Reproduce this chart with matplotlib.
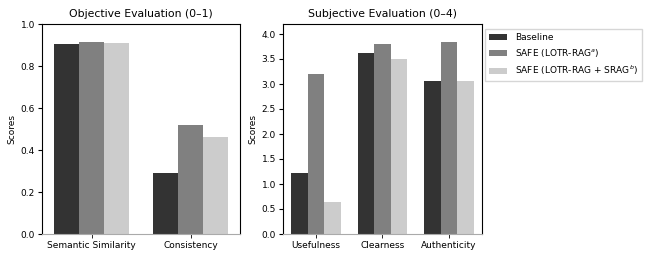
import matplotlib
matplotlib.use("Agg")
import matplotlib.pyplot as plt
import numpy as np

# objective evaluation (0-1)
obj_cats = ["Semantic Similarity", "Consistency"]
obj_baseline = [0.905, 0.29]
obj_safe_a = [0.915, 0.52]
obj_safe_ab = [0.908, 0.46]

# subjective evaluation (0-4)
subj_cats = ["Usefulness", "Clearness", "Authenticity"]
subj_baseline = [1.23, 3.62, 3.07]
subj_safe_a = [3.20, 3.80, 3.84]
subj_safe_ab = [0.65, 3.51, 3.06]

labels = ["Baseline", "SAFE (LOTR-RAG$^{a}$)", "SAFE (LOTR-RAG + SRAG$^{b}$)"]
colors = ["#333333", "#808080", "#cccccc"]

plt.rcParams["font.family"] = "DejaVu Sans"
fig = plt.figure(figsize=(6.52, 2.62), dpi=100)
ax1 = fig.add_axes([42 / 652, 28 / 262, 198 / 652, 210 / 262])
ax2 = fig.add_axes([283 / 652, 28 / 262, 199 / 652, 210 / 262])

w = 0.25


def draw(ax, cats, series, ylim, yticks, title):
    x = np.arange(len(cats))
    for i, vals in enumerate(series):
        ax.bar(x + (i - 1) * w, vals, w, color=colors[i], label=labels[i])
    ax.set_xticks(x)
    ax.set_xticklabels(cats, fontsize=6.5)
    ax.set_xlim(-0.5, len(cats) - 0.5)
    ax.set_ylim(*ylim)
    ax.set_yticks(yticks)
    ax.tick_params(axis="y", labelsize=6.5, length=3, pad=2)
    ax.tick_params(axis="x", length=3, width=0.6, pad=2)
    ax.set_ylabel("Scores", fontsize=6.5, labelpad=3)
    ax.set_title(title, fontsize=7.8, pad=5)
    for s in ax.spines.values():
        s.set_linewidth(0.8)
    ax.spines["bottom"].set_color("#aaaaaa")


draw(ax1, obj_cats, [obj_baseline, obj_safe_a, obj_safe_ab], (0, 1.0),
     np.arange(0, 1.01, 0.2), "Objective Evaluation (0\u20131)")
draw(ax2, subj_cats, [subj_baseline, subj_safe_a, subj_safe_ab], (0, 4.2),
     np.arange(0, 4.01, 0.5), "Subjective Evaluation (0\u20134)")

ax2.legend(loc="upper left", bbox_to_anchor=(485 / 652, 233 / 262),
           bbox_transform=fig.transFigure, fontsize=6.5,
           frameon=True, fancybox=False, edgecolor="#cccccc",
           handlelength=2.0, handleheight=0.6, handletextpad=0.9,
           borderpad=0.45, borderaxespad=0, labelspacing=0.55)

fig.savefig("out.png", dpi=100)
